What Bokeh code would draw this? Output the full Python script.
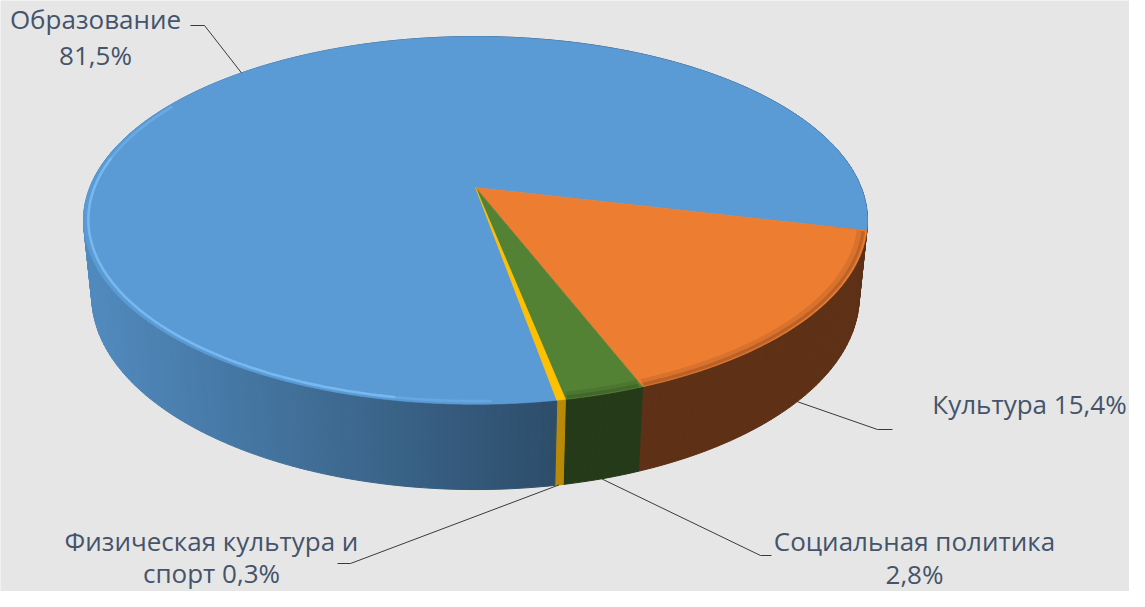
import numpy as np
from bokeh.plotting import figure
from bokeh.models import Range1d
from bokeh.embed import file_html
from bokeh.resources import INLINE
from bokeh.core.properties import value

# ---------------- data ----------------
categories = ["Образование", "Культура", "Социальная политика", "Физическая культура и спорт"]
shares = [81.5, 15.4, 2.8, 0.3]
label_lines = [["Образование", "{p}"], ["Культура {p}"], ["Социальная политика", "{p}"],
               ["Физическая культура и", "спорт {p}"]]

# ---------------- style ----------------
top_colors = ["#5b9bd5", "#ed7d31", "#548235", "#ffc000"]
side_colors = [None, "#5e3116", "#243a19", "#b88a08"]
BG = "#e7e6e6"
TXT = "#44546a"
FONT = "Open Sans"
FS = "26px"

# 3D projection parameters (pixel space of the 1145x607 page)
CX, CY = 483.0, 195.0
F, L = 1913.0, 4.96
SIN = 0.4615
COS = float(np.sqrt(1 - SIN ** 2))
H = 0.223
START = 170.0  # first slice angle, degrees clockwise from the back


def proj(theta_deg, r=1.0, z=0.0):
    t = np.radians(theta_deg)
    u, w = r * np.sin(t), r * np.cos(t)
    depth = L + w * COS - z * SIN
    x = CX + F * u / depth
    y = CY - F * (w * SIN + z * COS) / depth
    return x, y


def rgb(hexc):
    return tuple(int(hexc[i:i + 2], 16) for i in (1, 3, 5))


def scale(hexc, f):
    r, g, b = rgb(hexc)
    return "#%02x%02x%02x" % tuple(int(max(0, min(255, c * f))) for c in (r, g, b))


total = sum(shares)
bounds = [START]
for s in shares:
    bounds.append(bounds[-1] + 360.0 * s / total)

p = figure(width=1129, height=591, x_range=Range1d(8, 1137), y_range=Range1d(599, 8),
           output_backend="svg", toolbar_location=None, min_border=0)
p.axis.visible = False
p.grid.visible = False
p.outline_line_color = None
p.background_fill_color = BG
p.border_fill_color = BG

# ---- side walls (back to front) ----
quads = []
for i in range(len(shares)):
    a0, a1 = bounds[i], bounds[i + 1]
    n = max(1, int(np.ceil((a1 - a0) / 1.0)))
    angs = np.linspace(a0, a1, n + 1)
    for j in range(n):
        ta, tb = angs[j], angs[j + 1]
        xa, ya = proj(ta)
        xb, yb = proj(tb)
        xc, yc = proj(tb, z=-H)
        xd, yd = proj(ta, z=-H)
        mid = 0.5 * (ta + tb)
        wmid = np.cos(np.radians(mid))
        if side_colors[i] is None:
            xm = 0.5 * (xa + xb)
            f = 0.5 + 0.4 * (565 - xm) / 475.0
            f = max(0.5, min(0.9, f))
            col = scale(top_colors[i], f)
        else:
            col = side_colors[i]
        quads.append((wmid, [xa, xb, xc, xd], [ya, yb, yc, yd], col))
quads.sort(key=lambda q: -q[0])
p.patches([q[1] for q in quads], [q[2] for q in quads],
          fill_color=[q[3] for q in quads], line_color=[q[3] for q in quads], line_width=1)

# ---- top faces ----
txs, tys = [], []
for i in range(len(shares)):
    a0, a1 = bounds[i], bounds[i + 1]
    n = max(2, int(np.ceil((a1 - a0) / 0.5)))
    angs = np.linspace(a0, a1, n + 1)
    xs, ys = proj(angs)
    txs.append([CX] + list(xs))
    tys.append([CY] + list(ys))
p.patches(txs, tys, fill_color=top_colors, line_color=top_colors, line_width=0.6)

# ---- rim effects ----
# highlight on blue front-left rim
for a_s, a_e, alpha in [(178, 190, 0.35), (190, 280, 0.85), (280, 300, 0.45)]:
    angs = np.linspace(a_s, a_e, 60)
    hx, hy = proj(angs, r=0.988)
    p.line(hx, hy, line_color="#7dbdf5", line_width=2.6, line_alpha=alpha)
# soft shadow on orange / green front rim
for i in (1, 2):
    angs = np.linspace(bounds[i] + 0.3, bounds[i + 1] - 0.3, 80)
    for r, lw, al in [(0.984, 7, 0.14), (0.992, 3.5, 0.25)]:
        sx, sy = proj(angs, r=r)
        p.line(sx, sy, line_color=side_colors[i], line_width=lw, line_alpha=al)

# ---- leader lines and labels ----
mids = [0.5 * (bounds[i] + bounds[i + 1]) for i in range(len(shares))]
pct = [("%.1f" % s).replace(".", ",") + "%" for s in shares]

anchors = [proj(mids[0]), proj(mids[1], z=-H), proj(mids[2], z=-H), proj(mids[3], z=-H)]
elbows = [[(212, 33), (198, 33)], [(885, 437), (900, 437)], [(768, 563), (779, 563)],
          [(358, 571), (345, 571)]]
for (ax, ay), el in zip(anchors, elbows):
    p.line([ax] + [e[0] for e in el], [ay] + [e[1] for e in el], line_color="#3a3a3a", line_width=1)

label_pos = [[(103, 26), (103, 62)], [(1037, 411)], [(922, 548), (922, 581)],
             [(219, 548), (219, 580)]]
tx, ty, tt = [], [], []
for lines, pos, pc in zip(label_lines, label_pos, pct):
    for s, (x, y) in zip(lines, pos):
        tx.append(x)
        ty.append(y)
        tt.append(s.format(p=pc))
p.text(tx, ty, text=tt, text_font=value(FONT), text_font_size=FS, text_color=TXT,
       text_align="center", text_baseline="middle")

open("out.html", "w").write(file_html(p, INLINE))
